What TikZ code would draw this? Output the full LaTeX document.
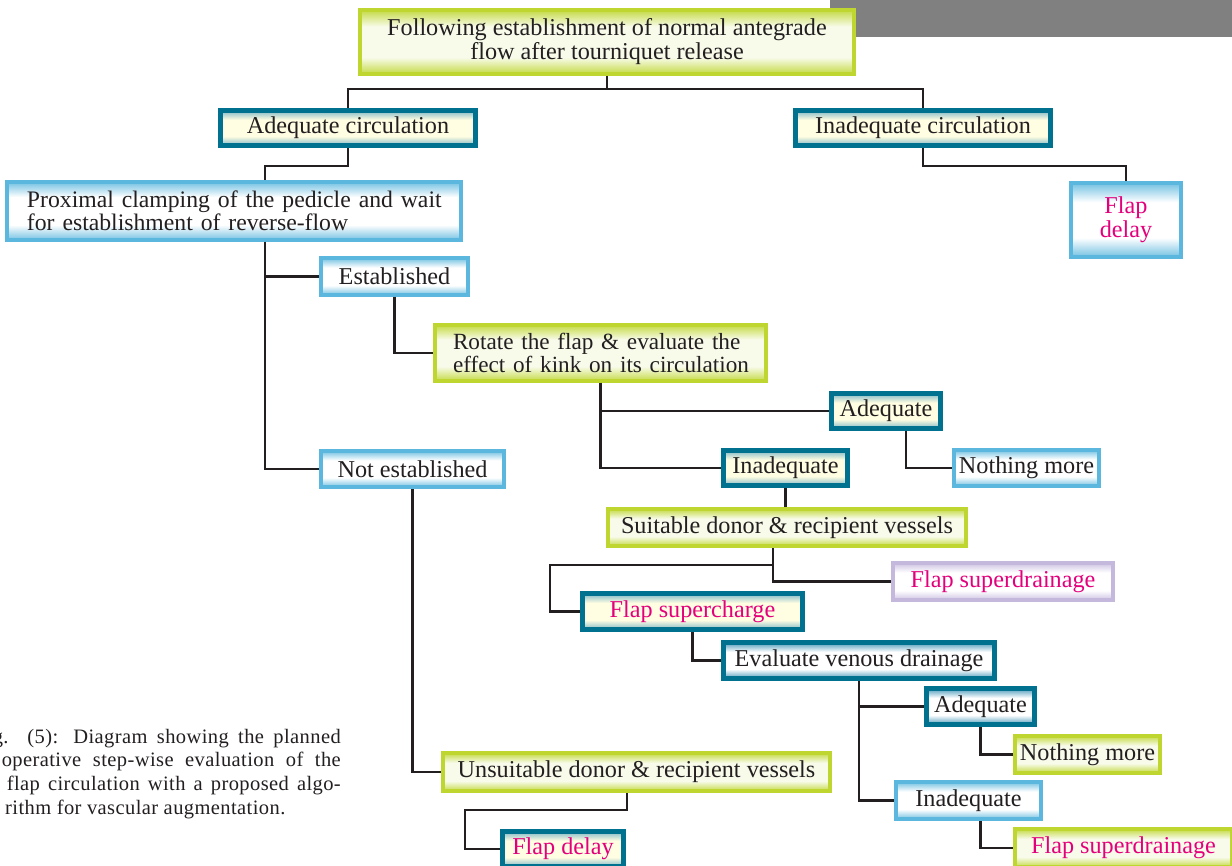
\documentclass[tikz,border=0pt]{standalone}
\usepackage{fontspec}
\setmainfont{Liberation Serif}
\definecolor{tealc}{HTML}{00718F}
\definecolor{lbc}{HTML}{5BB7DD}
\definecolor{grc}{HTML}{BED62F}
\definecolor{lavc}{HTML}{C4B8DC}
\definecolor{magc}{HTML}{E4007C}
\definecolor{txtc}{HTML}{231F20}
\definecolor{creamc}{HTML}{FFFDE2}
\definecolor{greyc}{HTML}{808080}
\pgfdeclareverticalshading{tealsh}{100bp}{color(0bp)=(tealc!50!white); color(25bp)=(tealc!50!white); color(38bp)=(creamc); color(62bp)=(creamc); color(75bp)=(tealc!50!white); color(100bp)=(tealc!50!white)}
\pgfdeclareverticalshading{tealwsh}{100bp}{color(0bp)=(lbc!85!black); color(25bp)=(lbc!85!black); color(38bp)=(white); color(62bp)=(white); color(75bp)=(lbc!85!black); color(100bp)=(lbc!85!black)}
\pgfdeclareverticalshading{bluesh}{100bp}{color(0bp)=(lbc!85!white); color(25bp)=(lbc!85!white); color(38bp)=(white); color(62bp)=(white); color(75bp)=(lbc!85!white); color(100bp)=(lbc!85!white)}
\pgfdeclareverticalshading{greensh}{100bp}{color(0bp)=(grc!90!white); color(25bp)=(grc!90!white); color(38bp)=(grc!10!white); color(62bp)=(grc!10!white); color(75bp)=(grc!90!white); color(100bp)=(grc!90!white)}
\pgfdeclareverticalshading{lavsh}{100bp}{color(0bp)=(lavc!85!white); color(25bp)=(lavc!85!white); color(38bp)=(white); color(62bp)=(white); color(75bp)=(lavc!85!white); color(100bp)=(lavc!85!white)}
\tikzset{
  box/.style={rectangle, inner sep=0pt, text=txtc, align=center,
    font=\fontsize{24.2}{24}\selectfont},
  tealbox/.style={box, line width=5pt, draw=tealc, shading=tealsh},
  tealwbox/.style={box, line width=5pt, draw=tealc, shading=tealwsh},
  bluebox/.style={box, line width=4pt, draw=lbc, shading=bluesh},
  greenbox/.style={box, line width=4pt, draw=grc, shading=greensh},
  lavbox/.style={box, line width=4pt, draw=lavc, shading=lavsh},
  mag/.style={text=magc},
  conn/.style={draw=txtc, line width=2.5pt},
  capline/.style={inner sep=0pt, text=txtc,
    font=\fontsize{20.5}{20.5}\selectfont\addfontfeature{LetterSpace=2}}
}
\begin{document}
\begin{tikzpicture}[x=1pt,y=-1pt]
\useasboundingbox (0,0) rectangle (1232,866);
\clip (0,0) rectangle (1232,866);
\fill[greyc] (830,0) rectangle (1232,37);

% caption
\node[capline, anchor=base east] (c1) at (341,743) {\makebox[348pt][s]{g. (5): Diagram showing the planned}};
\node[capline, anchor=base east] (c2) at (341,766) {\makebox[339pt][s]{operative step-wise evaluation of the}};
\node[capline, anchor=base east] (c3) at (341,790) {\makebox[334pt][s]{flap circulation with a proposed algo-}};
\node[capline, anchor=base west] (c4) at (5,814) {rithm for vascular augmentation.};

% nodes
\node[greenbox, minimum width=494, minimum height=64] (top) at (607,42)
  {Following establishment of normal antegrade\\flow after tourniquet release};
\node[tealbox, minimum width=255, minimum height=35] (ac) at (348,128) {Adequate circulation};
\node[tealbox, minimum width=255, minimum height=35] (ic) at (923,128) {Inadequate circulation};
\node[bluebox, minimum width=454, minimum height=58, text width=452, inner xsep=1, align=left,
  font=\fontsize{23.7}{23.5}\selectfont] (prox) at (234,211)
  {\hspace*{19pt}Proximal clamping of the pedicle and wait\\\hspace*{19pt}for establishment of reverse-flow};
\node[bluebox, mag, minimum width=110, minimum height=74] (fd1) at (1126,220) {Flap\\delay};
\node[bluebox, minimum width=147, minimum height=37] (est) at (394.5,276.5) {Established};
\node[greenbox, minimum width=331, minimum height=56, text width=329, inner xsep=1, align=left,
  font=\fontsize{23.2}{23.5}\selectfont] (rot) at (600.5,353)
  {\hspace*{17pt}Rotate the flap \& evaluate the\\\hspace*{17pt}effect of kink on its circulation};
\node[tealbox, minimum width=109, minimum height=35] (adq1) at (886,411) {Adequate};
\node[tealbox, minimum width=124, minimum height=35] (inq1) at (785.5,468) {Inadequate};
\node[bluebox, minimum width=183, minimum height=36] (nest) at (412.5,469) {Not established};
\node[bluebox, minimum width=145, minimum height=36] (nm1) at (1026.5,468) {Nothing more};
\node[greenbox, minimum width=358, minimum height=37] (suit) at (787,527.5) {Suitable donor \& recipient vessels};
\node[lavbox, mag, minimum width=220, minimum height=37] (sd1) at (1003,581.5) {Flap superdrainage};
\node[tealbox, mag, minimum width=220, minimum height=36] (sc) at (692.5,611.5) {Flap supercharge};
\node[tealwbox, minimum width=271, minimum height=36] (evd) at (859,660.5) {Evaluate venous drainage};
\node[tealwbox, minimum width=108, minimum height=36] (adq2) at (980.5,706.5) {Adequate};
\node[greenbox, minimum width=145, minimum height=37] (nm2) at (1087.5,754.5) {Nothing more};
\node[bluebox, minimum width=145, minimum height=37] (inq2) at (968.5,800.5) {Inadequate};
\node[greenbox, mag, minimum width=217, minimum height=38] (sd2) at (1123.5,848) {Flap superdrainage};
\node[greenbox, minimum width=387, minimum height=38] (uns) at (636.5,772) {Unsuitable donor \& recipient vessels};
\node[tealbox, mag, minimum width=121, minimum height=35] (fd2) at (563,849) {Flap delay};

% connectors
\draw[conn] (top.south) -- ++(0,13) coordinate (j1) -| (ac.north);
\draw[conn] (j1) -| (ic.north);
\draw[conn] (ac.south) -- ++(0,18) -| ([xshift=31pt]prox.north);
\draw[conn] (ic.south) -- ++(0,18) -| (fd1.north);
\draw[conn] ([xshift=31pt]prox.south) |- (est.west);
\draw[conn] ([xshift=31pt]prox.south) |- (nest.west);
\draw[conn] (est.south) |- (rot.west);
\draw[conn] (rot.south) |- (adq1.west);
\draw[conn] (rot.south) |- (inq1.west);
\draw[conn] ([xshift=20pt]adq1.south) |- (nm1.west);
\draw[conn] (inq1.south) -- (inq1.south |- suit.north);
\draw[conn] ([xshift=-14pt]suit.south) |- (sd1.west);
\draw[conn] ([xshift=-14pt]suit.south) -- ++(0,17) -- ++(-223,0) |- (sc.west);
\draw[conn] (sc.south) |- (evd.west);
\draw[conn] (evd.south) |- (adq2.west);
\draw[conn] (evd.south) |- (inq2.west);
\draw[conn] (adq2.south) |- (nm2.west);
\draw[conn] ([xshift=12pt]inq2.south) |- (sd2.west);
\draw[conn] (nest.south) |- (uns.west);
\draw[conn] ([xshift=-9.5pt]uns.south) -- ++(0,17) -- ++(-162,0) |- (fd2.west);
\end{tikzpicture}
\end{document}
